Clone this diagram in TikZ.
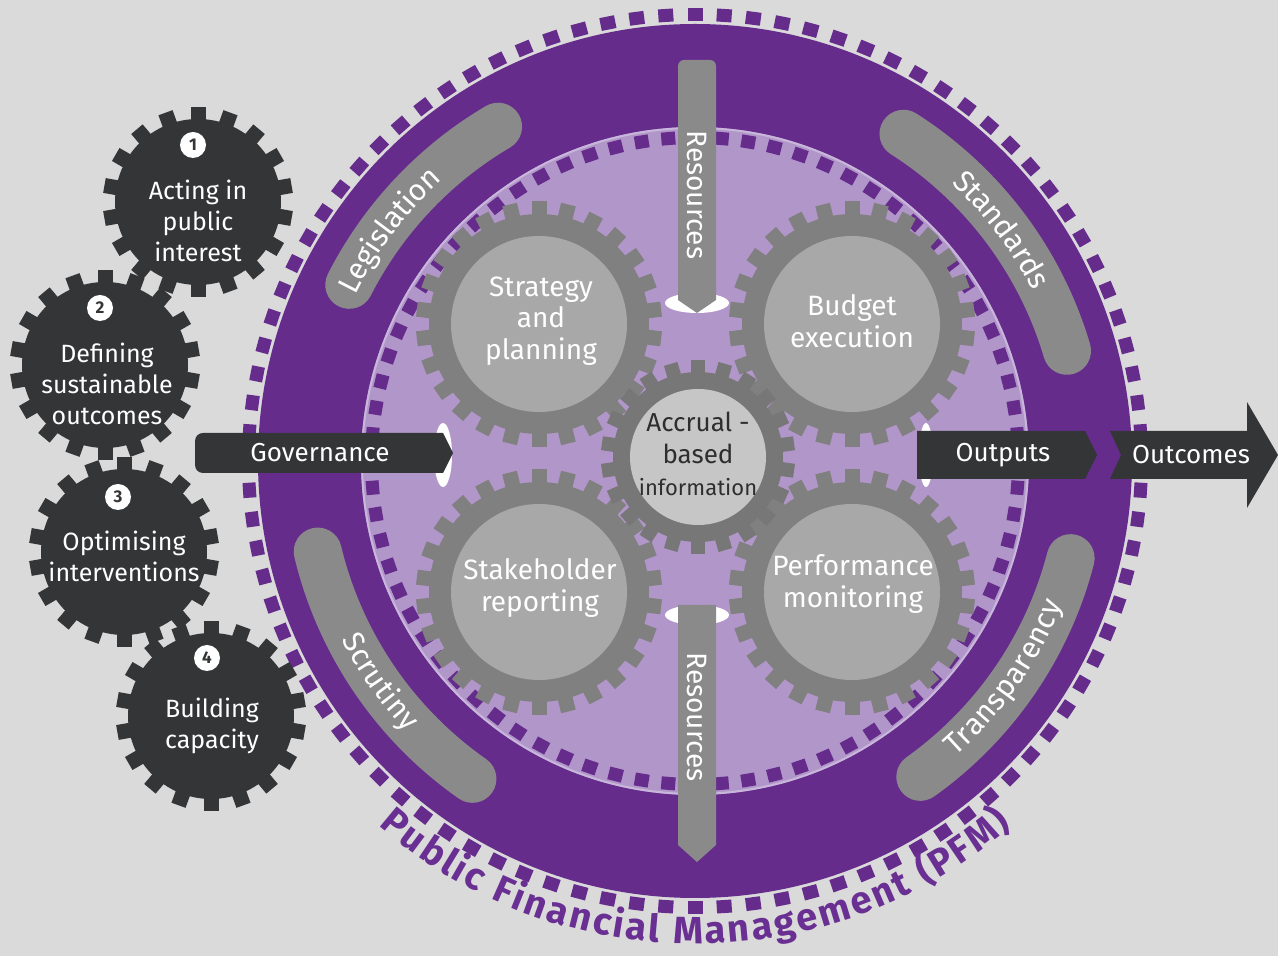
\documentclass[tikz,border=0pt]{standalone}
\usepackage{fontspec}
\setmainfont{Fira Sans}
\usetikzlibrary{decorations.text}
\definecolor{bg}{HTML}{DADADA}
\definecolor{dpurple}{HTML}{652C8C}
\definecolor{lpurple}{HTML}{B196C9}
\definecolor{lline}{HTML}{C9B6DB}
\definecolor{bandgrey}{HTML}{8A8A8A}
\definecolor{gearring}{HTML}{808080}
\definecolor{gearface}{HTML}{A8A8A8}
\definecolor{cgearring}{HTML}{777777}
\definecolor{cgearface}{HTML}{C6C6C6}
\definecolor{darkgear}{HTML}{333537}
\definecolor{txtdark}{HTML}{2E2E2E}
\definecolor{pfmpurple}{HTML}{6A2F92}
\newcommand{\drawgear}[6]{%
  \begin{scope}[shift={(#1)}]
    \fill[#6] (0,0) circle[radius=#3];
    \foreach \ii in {1,...,#2}{%
      \fill[#6, rotate={\ii*(360/#2)}] (-#5/2,#3-3) rectangle (#5/2,#4);}
  \end{scope}}
\newcommand{\ringteeth}[6]{%
  \begin{scope}[shift={(#1)}]
    \foreach \ii in {1,...,#2}{%
      \fill[#6, rotate={\ii*(360/#2)}] (-#5/2,#3) rectangle (#5/2,#4);}
  \end{scope}}
\newcommand{\bandfont}{\color{white}\fontsize{30}{30}\selectfont}
\newcommand{\pfmfont}{\color{pfmpurple}\fontsize{38}{38}\selectfont\bfseries}
\begin{document}
\begin{tikzpicture}[x=1pt,y=1pt,
  lbl/.style={text=white, font=\fontsize{25}{31}\selectfont, align=center, inner sep=0},
  albl/.style={text=white, font=\fontsize{26}{31}\selectfont, align=center, inner sep=0},
  gtxt/.style={text=white, font=\fontsize{28}{31.5}\selectfont, align=center, inner sep=0},
  numc/.style={circle, fill=white, inner sep=0, minimum size=26, text=darkgear, font=\fontsize{17}{17}\selectfont\bfseries},
  bandline/.style={bandgrey, line width=48, line cap=round},
  arrowdark/.style={fill=darkgear},
  hole/.style={fill=white}]
\useasboundingbox (0,0) rectangle (1278,956);
\fill[bg] (0,0) rectangle (1278,956);
\coordinate (C) at (695,495);
% outer ring
\ringteeth{C}{96}{440}{453}{15}{dpurple}
\fill[dpurple] (C) circle[radius=437];
\fill[lpurple] (C) circle[radius=334];
\draw[lline, line width=2] (C) circle[radius=333];
\ringteeth{C}{76}{317}{330}{14}{dpurple}
% bands
\draw[bandline, shift={(C)}] (153:388) arc[start angle=153, end angle=120.5, radius=388];
\draw[bandline, shift={(C)}] (57.5:388) arc[start angle=57.5, end angle=16.5, radius=388];
\draw[bandline, shift={(C)}] (193.5:388) arc[start angle=193.5, end angle=235, radius=388];
\draw[bandline, shift={(C)}] (305.5:388) arc[start angle=305.5, end angle=345.5, radius=388];
\path[shift={(C)}, decorate, decoration={text along path, text={|\bandfont|Legislation}, text align=center, raise=-10pt}] (168:388) arc[start angle=168, end angle=118, radius=388];
\path[shift={(C)}, decorate, decoration={text along path, text={|\bandfont|Standards}, text align=center, raise=-10pt}] (62:388) arc[start angle=62, end angle=12, radius=388];
\path[shift={(C)}, decorate, decoration={text along path, text={|\bandfont|Scrutiny}, text align=center, raise=-10pt}] (190:386) arc[start angle=190, end angle=240, radius=386];
\path[shift={(C)}, decorate, decoration={text along path, text={|\bandfont|Transparency}, text align=center, raise=-10pt}] (300:384) arc[start angle=300, end angle=350, radius=384];
% big gears
\coordinate (G1) at (539,632);
\coordinate (G2) at (852,632);
\coordinate (G3) at (539,364);
\coordinate (G4) at (852,364);
\coordinate (GC) at (698,499);
\drawgear{G1}{26}{110}{123}{15}{gearring}
\drawgear{G2}{26}{110}{123}{15}{gearring}
\drawgear{G3}{26}{110}{123}{15}{gearring}
\drawgear{G4}{26}{110}{123}{15}{gearring}
\foreach \g in {G1,G2,G3,G4}{\fill[gearface] (\g) circle[radius=88];}
\drawgear{GC}{22}{85}{97}{14}{cgearring}
\fill[cgearface] (GC) circle[radius=68];
\node[gtxt] (t1) at (541,635) {Strategy\\and\\planning};
\node[gtxt] (t2) at (852,635) {Budget\\execution};
\node[gtxt] (t3) at (540,368) {Stakeholder\\reporting};
\node[gtxt] (t4) at (853,372) {Performance\\monitoring};
\node[gtxt, text=txtdark, font=\fontsize{26}{32}\selectfont] (tc) at (698,502) {Accrual -\\based\\{\fontsize{22}{22}\selectfont information}};
% resources arrows
\fill[hole] (697,653) ellipse[x radius=32, y radius=10];
\fill[bandgrey] (697,643) -- (678,656) [rounded corners=6] -- (678,896) -- (716,896) [sharp corners] -- (716,656) -- cycle;
\node[text=white, font=\fontsize{28}{28}\selectfont, rotate=-90, inner sep=0] (res1) at (697,761) {Resources};
\fill[hole] (697,341) ellipse[x radius=32, y radius=10];
\fill[bandgrey] (697,94) -- (678,111) -- (678,351) -- (716,351) -- (716,111) -- cycle;
\node[text=white, font=\fontsize{28}{28}\selectfont, rotate=-90, inner sep=0] (res2) at (697,239) {Resources};
% governance
\fill[hole] (443,501) ellipse[x radius=9, y radius=32];
\fill[arrowdark] (453,503) -- (443,523) [rounded corners=8] -- (195,523) -- (195,483) [sharp corners] -- (443,483) -- cycle;
\node[albl] (gov) at (320,503) {Governance};
% outputs
\fill[hole] (926,501) ellipse[x radius=7, y radius=32];
\fill[arrowdark] (1097,501) -- (1085,525) -- (917,525) -- (917,477) -- (1085,477) -- cycle;
\node[albl] (out) at (1003,501) {Outputs};
\fill[arrowdark] (1110,525) -- (1247,525) -- (1247,554) -- (1278,501) -- (1247,448) -- (1247,477) -- (1110,477) -- (1121,501) -- cycle;
\node[albl] (outc) at (1191,501) {Outcomes};
% left dark gears
\coordinate (D1) at (198,754);
\coordinate (D2) at (105,591);
\coordinate (D3) at (124,404);
\coordinate (D4) at (211,240);
\drawgear{D1}{18}{83}{95}{15}{darkgear}
\drawgear{D2}{18}{83}{95}{15}{darkgear}
\drawgear{D3}{18}{83}{95}{15}{darkgear}
\drawgear{D4}{18}{83}{95}{15}{darkgear}
\node[numc] (n1) at (193,811) {1};
\node[numc] (n2) at (100,648) {2};
\node[numc] (n3) at (118,459) {3};
\node[numc] (n4) at (207,298) {4};
\node[lbl] (d1) at (198,735) {Acting in\\public\\interest};
\node[lbl] (d2) at (107,572) {Defining\\sustainable\\outcomes};
\node[lbl] (d3) at (124,400) {Optimising\\interventions};
\node[lbl] (d4) at (212,230) {Building\\capacity};
% PFM title
\path[shift={(C)}, decorate, decoration={text along path, text={|\pfmfont|Public Financial Management (PFM)}, text align=fit to path}] (229:483) arc[start angle=229, end angle=311, radius=483];
\end{tikzpicture}
\end{document}
